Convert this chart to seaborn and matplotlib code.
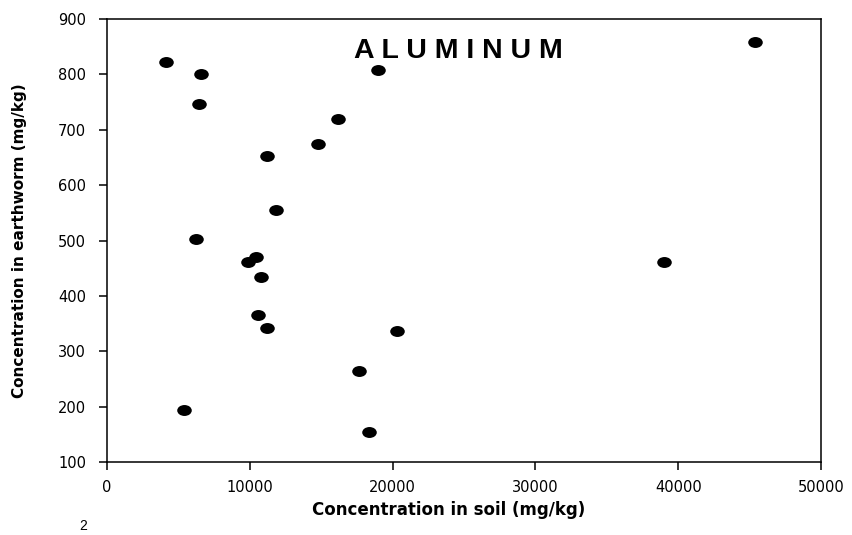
import numpy as np
import pandas as pd
import matplotlib
matplotlib.use("Agg")
import matplotlib.pyplot as plt
from matplotlib.path import Path
from matplotlib.transforms import Affine2D
import seaborn as sns

# aluminium, soil vs earthworm
soil = [4130, 6600, 6440, 11180, 14800, 16180, 18980, 11830, 6230, 9900,
        10410, 10780, 10550, 11180, 20290, 17650, 18370, 5410, 45400, 38980]
worm = [822, 801, 747, 652, 674, 719, 808, 555, 503, 461,
        470, 434, 366, 342, 336, 265, 155, 194, 859, 462]
xticks = [0, 10000, 20000, 30000, 40000, 50000]
yticks = [100, 200, 300, 400, 500, 600, 700, 800, 900]

df = pd.DataFrame({"soil": soil, "worm": worm})

sns.set_style("ticks")
plt.rcParams["font.family"] = ["DejaVu Sans"]
plt.rcParams["text.color"] = "black"
plt.rcParams["axes.labelcolor"] = "black"

fig = plt.figure(figsize=(8.53, 5.35), dpi=100)
ax = fig.add_axes([0.1254, 0.1364, 0.8371, 0.8281])

# wide ellipse marker like the original
ellipse = Path.unit_circle().transformed(Affine2D().scale(1.33, 1.0))
sns.scatterplot(data=df, x="soil", y="worm", ax=ax, color="black",
                marker=ellipse, s=110, linewidth=0, legend=False)

ax.set_xlim(0, 50000)
ax.set_ylim(100, 900)
ax.set_xticks(xticks)
ax.set_yticks(yticks)
ax.tick_params(axis="both", direction="out", length=6, width=1.1,
               color="black", labelsize=10.5, labelcolor="black")
ax.tick_params(axis="y", pad=9)
ax.tick_params(axis="x", pad=7)
for sp in ax.spines.values():
    sp.set_visible(True)
    sp.set_color("black")
    sp.set_linewidth(1.1)

ax.set_xlabel("Concentration in soil (mg/kg)", fontsize=12, fontweight="bold")
ax.set_ylabel("Concentration in earthworm (mg/kg)", fontsize=11, fontweight="bold")
ax.xaxis.set_label_coords(0.479, -0.088)
ax.yaxis.set_label_coords(-0.112, 0.5)

ax.text(0.492, 0.912, "A L U M I N U M", transform=ax.transAxes,
        ha="center", va="baseline", fontsize=20.5, fontweight="bold",
        family=["Liberation Sans", "DejaVu Sans"])

# stray page number at the bottom edge
fig.text(0.097, 0.004, "2", ha="center", va="bottom", fontsize=10,
         family=["Liberation Sans", "DejaVu Sans"])

fig.savefig("out.png", dpi=100)
